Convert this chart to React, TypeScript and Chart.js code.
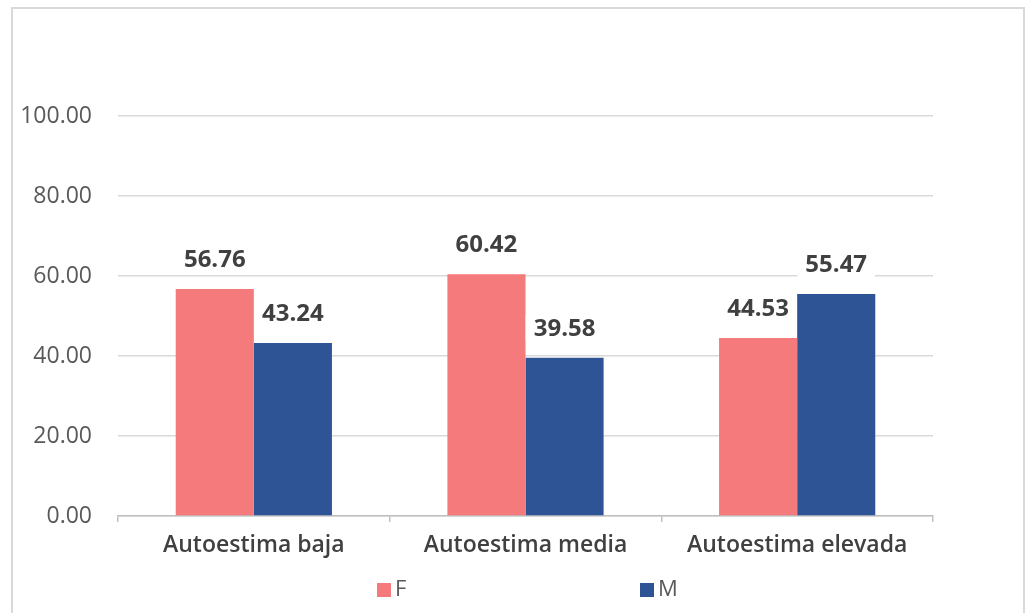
import React, { useEffect, useRef } from "react";
import { Chart, registerables } from "chart.js";

Chart.register(...registerables);

// Categories and series values
const categories = ["Autoestima baja", "Autoestima media", "Autoestima elevada"];
const seriesF = [56.76, 60.42, 44.53];
const seriesM = [43.24, 39.58, 55.47];
const seriesNames = ["F", "M"];
const yTicks = [0, 20, 40, 60, 80, 100];

const COLOR_F = "#F47A7C";
const COLOR_M = "#2F5496";
const FONT = "'Open Sans', 'DejaVu Sans', sans-serif";

// Light frame around the whole chart, on a white background
const framePlugin = {
  id: "frame",
  beforeDraw(chart: any) {
    const { ctx, width, height } = chart;
    ctx.save();
    ctx.fillStyle = "#ffffff";
    ctx.fillRect(0, 0, width, height);
    ctx.strokeStyle = "#d9d9d9";
    ctx.lineWidth = 2;
    ctx.strokeRect(12, 8, width - 17, height + 20);
    ctx.restore();
  },
};

// Value labels above each bar, on a white box
const valueLabelPlugin = {
  id: "valueLabels",
  afterDatasetsDraw(chart: any) {
    const { ctx } = chart;
    ctx.save();
    ctx.font = `bold 24px ${FONT}`;
    ctx.textAlign = "center";
    ctx.textBaseline = "middle";
    chart.data.datasets.forEach((ds: any, di: number) => {
      const meta = chart.getDatasetMeta(di);
      meta.data.forEach((bar: any, i: number) => {
        const text = Number(ds.data[i]).toFixed(2);
        const x = bar.x;
        const y = bar.y - 30;
        const w = ctx.measureText(text).width + 16;
        ctx.fillStyle = "#ffffff";
        ctx.fillRect(x - w / 2, y - 13, w, 26);
        ctx.fillStyle = "#404040";
        ctx.fillText(text, x, y + 1);
      });
    });
    ctx.restore();
  },
};

// Legend at the bottom, items spread apart
const legendPlugin = {
  id: "spreadLegend",
  afterDraw(chart: any) {
    const { ctx } = chart;
    const starts = [377, 640];
    const y = 590;
    ctx.save();
    ctx.font = `22px ${FONT}`;
    ctx.textAlign = "left";
    ctx.textBaseline = "middle";
    chart.data.datasets.forEach((ds: any, i: number) => {
      const x = starts[i];
      ctx.fillStyle = ds.backgroundColor;
      ctx.fillRect(x, y - 7, 14, 14);
      ctx.fillStyle = "#595959";
      ctx.fillText(ds.label, x + 18, y);
    });
    ctx.restore();
  },
};

export default function App() {
  const canvasRef = useRef<HTMLCanvasElement | null>(null);

  useEffect(() => {
    document.body.style.margin = "0";
    const canvas = canvasRef.current;
    if (!canvas) return;
    const chart = new Chart(canvas, {
      type: "bar",
      data: {
        labels: categories,
        datasets: [
          { label: seriesNames[0], data: seriesF, backgroundColor: COLOR_F, borderWidth: 0 },
          { label: seriesNames[1], data: seriesM, backgroundColor: COLOR_M, borderWidth: 0 },
        ],
      },
      options: {
        responsive: false,
        animation: false,
        devicePixelRatio: 1,
        layout: { padding: { left: 0, right: 96, top: 116, bottom: 0 } },
        plugins: {
          legend: { display: false },
          tooltip: { enabled: false },
        },
        datasets: {
          bar: { categoryPercentage: 0.575, barPercentage: 1 },
        },
        scales: {
          x: {
            afterFit: (s: any) => {
              s.height = 97;
            },
            grid: {
              display: true,
              drawOnChartArea: false,
              drawTicks: true,
              tickLength: 6,
              offset: true,
              color: "#bfbfbf",
              lineWidth: 1.5,
            },
            border: { display: true, color: "#bfbfbf", width: 1.5 },
            ticks: {
              color: "#404040",
              padding: 10,
              font: { family: FONT, size: 23, weight: "600" },
            },
          },
          y: {
            min: 0,
            max: 100,
            afterFit: (s: any) => {
              s.width = 118;
            },
            afterBuildTicks: (s: any) => {
              s.ticks = yTicks.map((v) => ({ value: v }));
            },
            grid: { color: "#d9d9d9", lineWidth: 1.5, drawTicks: false },
            border: { display: false },
            ticks: {
              color: "#595959",
              padding: 26,
              font: { family: FONT, size: 23 },
              callback: (v: any) => Number(v).toFixed(2),
            },
          },
        },
      },
      plugins: [framePlugin, valueLabelPlugin, legendPlugin],
    });
    return () => chart.destroy();
  }, []);

  return (
    <div style={{ position: "fixed", left: 0, top: 0, width: 1029, height: 613 }}>
      <canvas ref={canvasRef} width={1029} height={613} />
    </div>
  );
}
